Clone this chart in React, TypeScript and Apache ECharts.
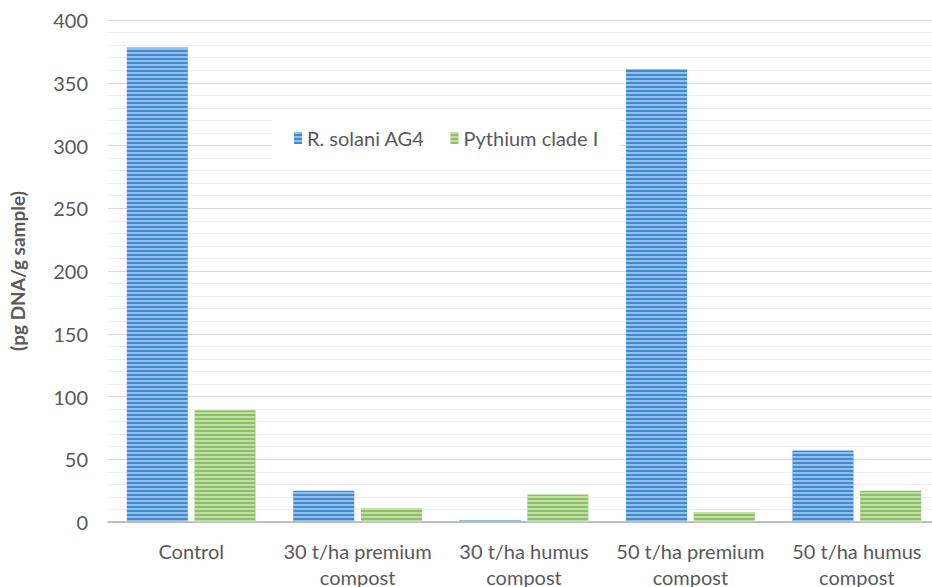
import React, { useEffect, useRef } from "react";
import * as echarts from "echarts";

const categories = [
  "Control",
  "30 t/ha premium\ncompost",
  "30 t/ha humus\ncompost",
  "50 t/ha premium\ncompost",
  "50 t/ha humus\ncompost",
];
const rSolani = [378, 25, 1.5, 361, 57];
const pythium = [89, 11, 22, 8, 25];
const seriesNames = ["R. solani AG4", "Pythium clade I"];
const yTicks = { min: 0, max: 400, interval: 50 };

const FONT = "Lato, 'Open Sans', sans-serif";

export default function App() {
  const ref = useRef<HTMLDivElement>(null);
  useEffect(() => {
    if (!ref.current) return;
    const chart = echarts.init(ref.current, undefined, { renderer: "svg" });
    const stripe = (c: string) => ({
      symbol: "rect",
      symbolSize: 1,
      dashArrayX: [1, 0],
      dashArrayY: [2, 1.5],
      rotation: 0,
      color: c,
    });
    chart.setOption({
      animation: false,
      textStyle: { fontFamily: FONT },
      grid: { left: 108, width: 832, top: 20, height: 502, outerBoundsMode: "none", containLabel: false },
      legend: {
        data: seriesNames,
        left: 272,
        top: 116,
        padding: [12, 22, 12, 22],
        backgroundColor: "#ffffff",
        itemWidth: 8,
        itemHeight: 12,
        itemGap: 26,
        icon: "rect",
        textStyle: { fontSize: 20, color: "#595959", fontFamily: FONT },
      },
      xAxis: {
        type: "category",
        data: categories,
        axisTick: { show: false },
        axisLine: { lineStyle: { color: "#bfbfbf", width: 2 } },
        axisLabel: {
          fontSize: 20,
          color: "#595959",
          lineHeight: 26,
          margin: 16,
          interval: 0,
          fontFamily: FONT,
        },
      },
      yAxis: {
        type: "value",
        min: yTicks.min,
        max: yTicks.max,
        interval: yTicks.interval,
        name: "(pg DNA/g sample)",
        nameLocation: "middle",
        nameGap: 81,
        nameTextStyle: { fontSize: 19, fontWeight: "bold", color: "#595959", fontFamily: FONT },
        axisLine: { show: false },
        axisTick: { show: false },
        axisLabel: { fontSize: 20, color: "#595959", margin: 20, fontFamily: FONT },
        splitLine: { lineStyle: { color: "#d9d9d9", width: 1 } },
        minorTick: { show: false, splitNumber: 5 },
        minorSplitLine: { show: true, lineStyle: { color: "#eeeeee", width: 1 } },
      },
      series: [
        {
          name: seriesNames[0],
          type: "bar",
          data: rSolani,
          barWidth: 61,
          barGap: "11%",
          itemStyle: {
            color: "#3f8bd3",
            decal: stripe("rgba(255,255,255,0.45)"),
          },
        },
        {
          name: seriesNames[1],
          type: "bar",
          data: pythium,
          barWidth: 61,
          itemStyle: {
            color: "#8cc163",
            decal: stripe("rgba(255,255,255,0.45)"),
          },
        },
      ],
    });
    return () => chart.dispose();
  }, []);
  return (
    <div
      ref={ref}
      style={{ position: "absolute", left: 0, top: 0, width: 932, height: 587, overflow: "hidden" }}
    />
  );
}
